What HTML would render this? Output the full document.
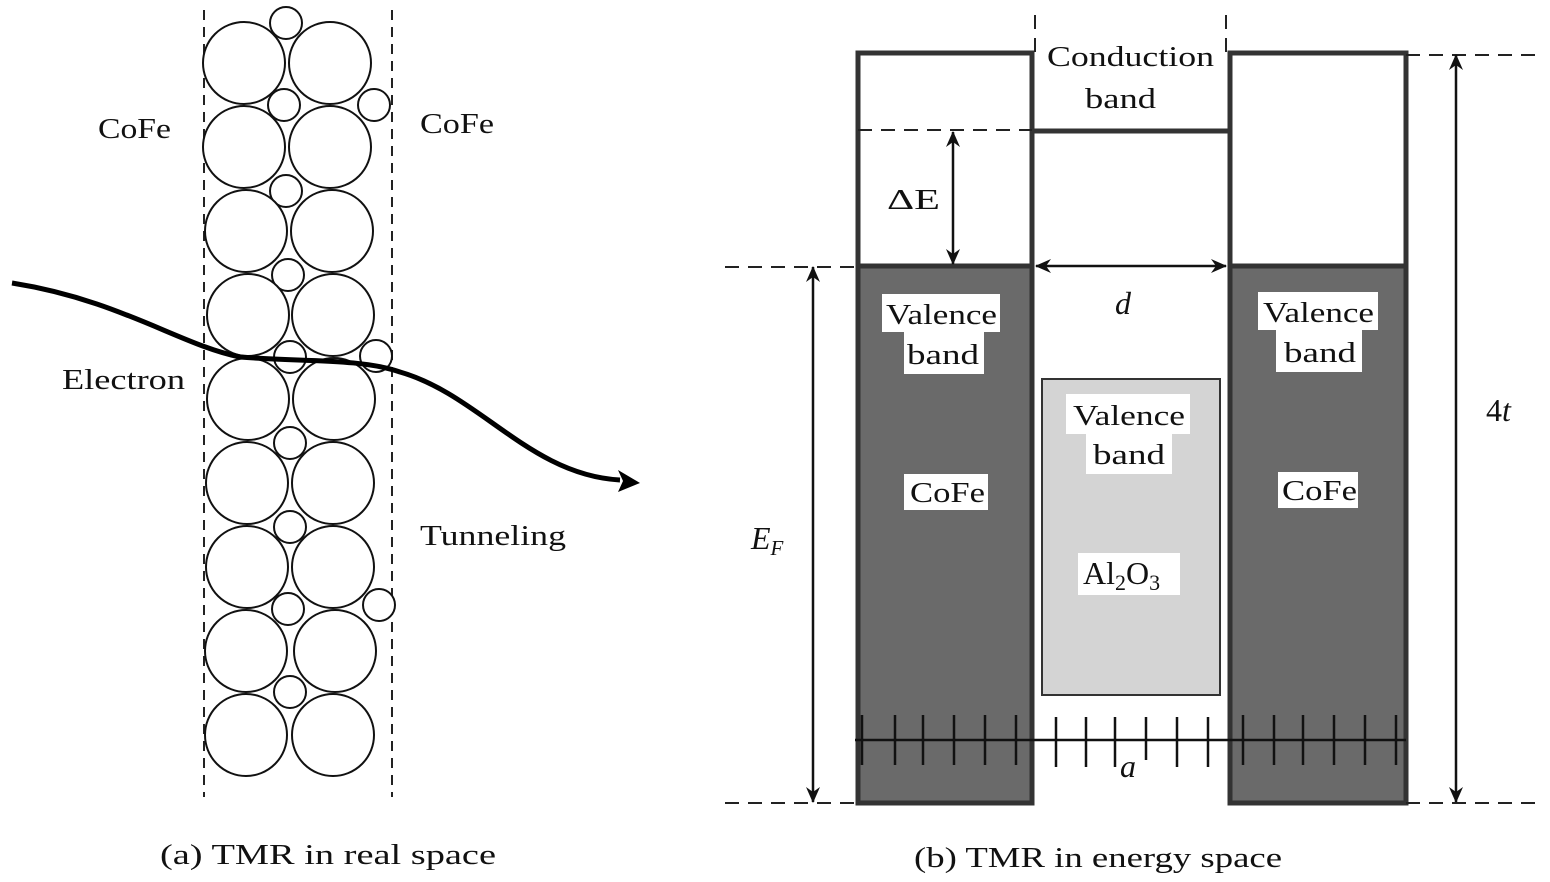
<!DOCTYPE html>
<html><head><style>
html,body{margin:0;padding:0;background:#fff;}
svg{display:block;}
text{font-family:"Liberation Serif",serif;fill:#111;}
</style></head><body>
<svg width="1550" height="882" viewBox="0 0 1550 882" xmlns="http://www.w3.org/2000/svg">
<defs>
<marker id="ah" markerWidth="16" markerHeight="14" refX="15" refY="7" orient="auto-start-reverse" markerUnits="userSpaceOnUse">
<path d="M0,0 L16,7 L0,14 L5,7 Z" fill="#111"/>
</marker>
</defs>
<!-- LEFT PANEL -->
<g stroke="#222" stroke-width="2" stroke-dasharray="10,7" fill="none">
<line x1="204" y1="10" x2="204" y2="797"/>
<line x1="392" y1="10" x2="392" y2="797"/>
</g>
<g stroke="#111" stroke-width="2" fill="#fff">
<circle cx="286" cy="23" r="16"/>
<circle cx="244" cy="63" r="41"/><circle cx="330" cy="63" r="41"/>
<circle cx="284" cy="105" r="16"/><circle cx="374" cy="105" r="16"/>
<circle cx="244" cy="147" r="41"/><circle cx="330" cy="147" r="41"/>
<circle cx="286" cy="191" r="16"/>
<circle cx="246" cy="231" r="41"/><circle cx="332" cy="231" r="41"/>
<circle cx="288" cy="275" r="16"/>
<circle cx="248" cy="315" r="41"/><circle cx="333" cy="315" r="41"/>
<circle cx="290" cy="357" r="16"/><circle cx="376" cy="356" r="16"/>
<circle cx="248" cy="399" r="41"/><circle cx="334" cy="399" r="41"/>
<circle cx="290" cy="443" r="16"/>
<circle cx="247" cy="483" r="41"/><circle cx="333" cy="483" r="41"/>
<circle cx="290" cy="527" r="16"/>
<circle cx="247" cy="567" r="41"/><circle cx="333" cy="567" r="41"/>
<circle cx="288" cy="609" r="16"/><circle cx="379" cy="605" r="16"/>
<circle cx="246" cy="651" r="41"/><circle cx="335" cy="651" r="41"/>
<circle cx="290" cy="692" r="16"/>
<circle cx="246" cy="735" r="41"/><circle cx="333" cy="735" r="41"/>
</g>
<path d="M12,283 C120,300 180,345 240,357 C300,362 360,358 400,372 C480,395 530,475 620,480" stroke="#000" stroke-width="5" fill="none"/>
<path d="M618,470 L640,483 L618,492 L623,481 Z" fill="#000"/>
<g font-size="28">
<text x="98" y="138" textLength="73" lengthAdjust="spacingAndGlyphs">CoFe</text>
<text x="420" y="133" textLength="74" lengthAdjust="spacingAndGlyphs">CoFe</text>
<text x="62" y="389" textLength="123" lengthAdjust="spacingAndGlyphs">Electron</text>
<text x="420" y="545" textLength="146" lengthAdjust="spacingAndGlyphs">Tunneling</text>
<text x="160" y="864" textLength="336" lengthAdjust="spacingAndGlyphs">(a)  TMR in real space</text>
</g>

<!-- RIGHT PANEL -->
<rect x="859" y="266" width="172" height="536" fill="#6a6a6a"/>
<rect x="1231" y="266" width="174" height="536" fill="#6a6a6a"/>
<rect x="1042" y="379" width="178" height="316" fill="#d4d4d4" stroke="#333" stroke-width="2"/>
<g stroke="#333" stroke-width="5" fill="none">
<rect x="858" y="53" width="174" height="750"/>
<rect x="1230" y="53" width="176" height="750"/>
<line x1="858" y1="266" x2="1032" y2="266"/>
<line x1="1230" y1="266" x2="1406" y2="266"/>
<line x1="1032" y1="131" x2="1230" y2="131"/>
</g>
<g stroke="#222" stroke-width="2" stroke-dasharray="14,9" fill="none">
<line x1="1035" y1="15" x2="1035" y2="52"/>
<line x1="1226" y1="15" x2="1226" y2="52"/>
<line x1="1406" y1="55" x2="1540" y2="55"/>
<line x1="858" y1="130" x2="1032" y2="130"/>
<line x1="725" y1="267" x2="858" y2="267"/>
<line x1="725" y1="803" x2="858" y2="803"/>
<line x1="1406" y1="803" x2="1540" y2="803"/>
</g>
<g stroke="#111" stroke-width="2.5" fill="none">
<line x1="953" y1="132" x2="953" y2="264" marker-start="url(#ah)" marker-end="url(#ah)"/>
<line x1="1036" y1="266" x2="1226" y2="266" marker-start="url(#ah)" marker-end="url(#ah)"/>
<line x1="813" y1="267" x2="813" y2="802" marker-start="url(#ah)" marker-end="url(#ah)"/>
<line x1="1456" y1="55" x2="1456" y2="802" marker-start="url(#ah)" marker-end="url(#ah)"/>
</g>
<g stroke="#111" stroke-width="2.5">
<line x1="855" y1="740" x2="1406" y2="740"/>
<line x1="862" y1="715" x2="862" y2="765"/><line x1="895" y1="715" x2="895" y2="765"/>
<line x1="923" y1="715" x2="923" y2="765"/><line x1="954" y1="715" x2="954" y2="765"/>
<line x1="985" y1="715" x2="985" y2="765"/><line x1="1016" y1="715" x2="1016" y2="765"/>
<line x1="1056" y1="717" x2="1056" y2="767"/><line x1="1086" y1="717" x2="1086" y2="767"/>
<line x1="1115" y1="717" x2="1115" y2="767"/><line x1="1146" y1="717" x2="1146" y2="760"/>
<line x1="1177" y1="717" x2="1177" y2="767"/><line x1="1208" y1="717" x2="1208" y2="767"/>
<line x1="1243" y1="715" x2="1243" y2="765"/><line x1="1274" y1="715" x2="1274" y2="765"/>
<line x1="1303" y1="715" x2="1303" y2="765"/><line x1="1334" y1="715" x2="1334" y2="765"/>
<line x1="1365" y1="715" x2="1365" y2="765"/><line x1="1396" y1="715" x2="1396" y2="765"/>
</g>
<!-- label backgrounds -->
<g fill="#fff">
<rect x="882" y="294" width="118" height="38"/><rect x="904" y="332" width="80" height="42"/>
<rect x="1258" y="292" width="120" height="38"/><rect x="1276" y="330" width="86" height="42"/>
<rect x="1066" y="394" width="124" height="40"/><rect x="1086" y="434" width="86" height="40"/>
<rect x="904" y="474" width="84" height="36"/><rect x="1278" y="472" width="80" height="36"/>
<rect x="1078" y="553" width="102" height="42"/>
</g>
<g font-size="28">
<text x="1047" y="66" textLength="167" lengthAdjust="spacingAndGlyphs">Conduction</text>
<text x="1085" y="108" textLength="71" lengthAdjust="spacingAndGlyphs">band</text>
<text x="886" y="324" textLength="111" lengthAdjust="spacingAndGlyphs">Valence</text>
<text x="907" y="364" textLength="72" lengthAdjust="spacingAndGlyphs">band</text>
<text x="1263" y="322" textLength="111" lengthAdjust="spacingAndGlyphs">Valence</text>
<text x="1284" y="362" textLength="72" lengthAdjust="spacingAndGlyphs">band</text>
<text x="1073" y="425" textLength="112" lengthAdjust="spacingAndGlyphs">Valence</text>
<text x="1093" y="464" textLength="72" lengthAdjust="spacingAndGlyphs">band</text>
<text x="910" y="502" textLength="75" lengthAdjust="spacingAndGlyphs">CoFe</text>
<text x="1282" y="500" textLength="75" lengthAdjust="spacingAndGlyphs">CoFe</text>
<text x="887" y="209" textLength="53" lengthAdjust="spacingAndGlyphs">ΔE</text>
<text x="914" y="867" textLength="368" lengthAdjust="spacingAndGlyphs">(b) TMR in energy space</text>
</g>
<g font-size="32">
<text x="1083" y="584">Al<tspan font-size="22" dy="6">2</tspan><tspan dy="-6">O</tspan><tspan font-size="22" dy="6">3</tspan></text>
<text x="1115" y="314" font-style="italic">d</text>
<text x="1120" y="777" font-style="italic">a</text>
<text x="1486" y="421">4<tspan font-style="italic">t</tspan></text>
<text x="751" y="549" font-style="italic">E<tspan font-size="21" dy="6">F</tspan></text>
</g>
</svg>
</body></html>
